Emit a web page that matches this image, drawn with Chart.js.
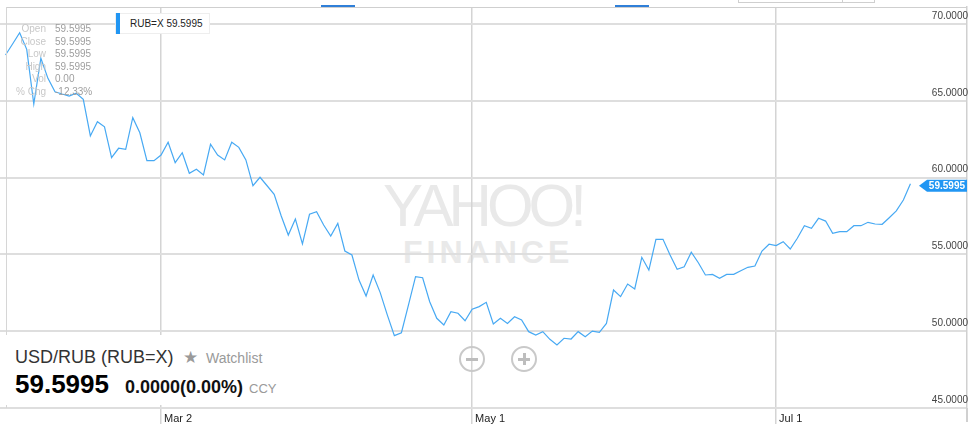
<!DOCTYPE html>
<html>
<head>
<meta charset="utf-8">
<script src="https://cdn.jsdelivr.net/npm/chart.js@4.4.0/dist/chart.umd.min.js"></script>
<style>
  body { margin: 0; background: #fff; font-family: "Liberation Sans", Arial, sans-serif; }
  #wrap { position: relative; width: 974px; height: 424px; overflow: hidden; }
  #chart { position: absolute; left: 0; top: 0; z-index: 1; }
  .abs { position: absolute; white-space: nowrap; line-height: 1; }
  .front { z-index: 2; }
  #mark1 { left: 383px; top: 176px; font-size: 60px; color: #e9e9e9; letter-spacing: -5px; }
  #mark2 { left: 403px; top: 236px; font-size: 32px; color: #e9e9e9; font-weight: bold; letter-spacing: 4px; }
  #info { left: 0; top: 23px; font-size: 10px; line-height: 12.5px; }
  #info .k { position: absolute; right: -46px; width: 60px; text-align: right; color: #c8c8c8; }
  #legend { left: 115px; top: 13px; width: 95px; height: 21px; background: #fff; border: 1px solid #eee; box-sizing: border-box; font-size: 10px; line-height: 19px; color: #222; z-index: 2; }
  #legend .bar { position: absolute; left: 0; top: -1px; width: 4px; height: 21px; background: #2196f3; }
  #quote { left: 0; top: 335px; width: 290px; height: 70px; background: #fff; z-index: 2; }
  .zoom { position: absolute; width: 22px; height: 22px; border: 2px solid #c9c9c9; border-radius: 50%; z-index: 2; }
  .zoom i { position: absolute; background: #bdbdbd; }
</style>
</head>
<body>
<div id="wrap">
  <div class="abs" id="mark1">YAHOO!</div>
  <div class="abs" id="mark2">FINANCE</div>
  <canvas id="chart" width="974" height="424"></canvas>

  <!-- frame remnants of the page above the chart -->
  <div class="abs front" style="left:6px;top:7px;width:961px;height:1px;background:#cfcfcf"></div>
  <div class="abs front" style="left:6px;top:7px;width:1px;height:401px;background:#d6d6d6"></div>
  <div class="abs front" style="left:966px;top:408px;width:1.5px;height:14px;background:#d0d0d0"></div>
  <div class="abs front" style="left:321px;top:5px;width:34px;height:2px;background:#2f7fd8"></div>
  <div class="abs front" style="left:615px;top:5px;width:34px;height:2px;background:#2f7fd8"></div>
  <div class="abs front" style="left:738px;top:-1px;width:137px;height:4px;border:1px solid #cfcfcf;box-sizing:border-box"></div>
  <div class="abs front" style="left:842px;top:0;width:1px;height:3px;background:#cfcfcf"></div>

  <div class="abs front" id="info"></div>
  <div class="abs" id="legend"><span class="bar"></span><span style="position:absolute;left:14px">RUB=X <span id="legendVal"></span></span></div>

  <div class="abs" id="quote">
    <span class="abs" style="left:15px;top:13px;font-size:18px;color:#333">USD/RUB (RUB=X)</span>
    <span class="abs" style="left:183px;top:14px;font-size:17px;color:#9a9a9a;font-family:'DejaVu Sans'">★</span>
    <span class="abs" style="left:206px;top:16px;font-size:14px;color:#9a9a9a">Watchlist</span>
    <span class="abs" id="bigVal" style="left:15px;top:36px;font-size:26px;font-weight:bold;color:#000"></span>
    <span class="abs" style="left:125px;top:43px;font-size:18px;font-weight:bold;color:#111">0.0000(0.00%)</span>
    <span class="abs" style="left:249px;top:47px;font-size:13px;color:#9a9a9a">CCY</span>
  </div>

  <div class="zoom" style="left:459px;top:346px"><i style="left:5px;top:9.5px;width:12px;height:3px"></i></div>
  <div class="zoom" style="left:511px;top:346px"><i style="left:5px;top:9.5px;width:12px;height:3px"></i><i style="left:9.5px;top:5px;width:3px;height:12px"></i></div>
</div>

<script>
// USD/RUB daily close, one value per weekday starting 2015-01-29
const startDate = "2015-01-29";
const rates = [
  67.98, 68.70, 69.43, 68.35, 64.79, 67.77, 66.46, 65.59, 65.44, 65.31,
  65.49, 65.10, 62.71, 63.64, 63.31, 61.30, 61.91, 61.84, 63.90, 62.92,
  61.10, 61.10, 61.47, 62.30, 60.97, 61.62, 60.28, 60.54, 60.17, 62.17,
  61.47, 61.15, 62.30, 61.97, 61.15, 59.47, 60.02, 59.47, 58.91, 57.50,
  56.26, 57.30, 55.68, 57.61, 57.78, 56.91, 56.20, 57.02, 55.22, 54.96,
  53.33, 52.29, 53.66, 52.51, 51.06, 49.71, 49.90, 51.71, 53.55, 53.48,
  51.92, 50.84, 50.40, 51.27, 51.17, 50.68, 51.43, 51.60, 51.88, 50.47,
  50.84, 50.51, 50.94, 50.73, 49.97, 49.75, 49.97, 49.47, 49.10, 49.54,
  49.49, 49.97, 49.64, 50.01, 49.93, 50.51, 52.68, 52.25, 53.07, 52.75,
  54.81, 53.98, 55.98, 55.98, 54.96, 54.03, 54.20, 55.14, 54.46, 53.66,
  53.70, 53.44, 53.70, 53.70, 53.94, 54.16, 54.24, 55.22, 55.66, 55.57,
  55.83, 55.35, 56.05, 56.87, 56.70, 57.35, 57.17, 56.37, 56.48, 56.48,
  56.87, 56.87, 57.09, 56.98, 56.96, 57.39, 57.83, 58.54, 59.5995
];
const tickDates = ["2015-03-02", "2015-05-01", "2015-07-01"];
const tickLabels = ["Mar 2", "May 1", "Jul 1"];
const yTicks = [45, 50, 55, 60, 65, 70];
const infoLabels = ["Open", "Close", "Low", "High", "Vol", "% Chg"];
const infoValues = ["59.5995", "59.5995", "59.5995", "59.5995", "0.00", "-12.33%"];

// weekday calendar for the series
const days = [];
const d = new Date(startDate + "T00:00:00Z");
while (days.length < rates.length) {
  const wd = d.getUTCDay();
  if (wd !== 0 && wd !== 6) days.push(d.toISOString().slice(0, 10));
  d.setUTCDate(d.getUTCDate() + 1);
}
const tickIdx = tickDates.map((t) => days.indexOf(t));
const last = rates[rates.length - 1];

document.getElementById("legendVal").textContent = last.toFixed(4);
document.getElementById("bigVal").textContent = last.toFixed(4);
const info = document.getElementById("info");
infoLabels.forEach((k, i) => {
  const row = document.createElement("div");
  row.style.position = "relative";
  row.style.height = "12.5px";
  row.innerHTML = '<span class="k" style="left:-14px">' + k + '</span><span style="position:absolute;left:55px;color:#9e9e9e">' + infoValues[i] + "</span>";
  info.appendChild(row);
});

Chart.defaults.font.family = "'Liberation Sans', Arial, sans-serif";

const priceTag = {
  id: "priceTag",
  afterDatasetsDraw(chart) {
    const { ctx, chartArea, scales } = chart;
    const y = scales.y.getPixelForValue(last) + 2;
    const r = chartArea.right;
    ctx.save();
    ctx.fillStyle = "#2196f3";
    ctx.beginPath();
    ctx.moveTo(r - 48, y);
    ctx.lineTo(r - 40, y - 6);
    ctx.lineTo(r, y - 6);
    ctx.lineTo(r, y + 6);
    ctx.lineTo(r - 40, y + 6);
    ctx.closePath();
    ctx.fill();
    ctx.fillStyle = "#fff";
    ctx.font = "bold 10px 'Liberation Sans'";
    ctx.textAlign = "right";
    ctx.textBaseline = "middle";
    ctx.fillText(last.toFixed(4), r - 2, y + 0.5);
    ctx.restore();
  },
};

new Chart(document.getElementById("chart"), {
  type: "line",
  data: {
    datasets: [
      {
        data: rates.map((v, i) => ({ x: i, y: v })),
        borderColor: "#47a9f3",
        borderWidth: 1.2,
        pointRadius: 0,
        tension: 0,
        fill: false,
      },
    ],
  },
  options: {
    responsive: false,
    animation: false,
    events: [],
    layout: { padding: { left: 0, right: 7, top: 7, bottom: 0 } },
    scales: {
      x: {
        type: "linear",
        min: -0.78,
        max: 136,
        afterBuildTicks: (s) => { s.ticks = tickIdx.map((v) => ({ value: v })); },
        afterFit: (s) => { s.height = 16; },
        grid: { color: "#d4d4d4", lineWidth: 1.5, tickLength: 16 },
        border: { display: false },
        ticks: {
          autoSkip: false,
          maxRotation: 0,
          align: "start",
          labelOffset: 3,
          padding: -12,
          color: "#222",
          font: { size: 11 },
          callback: (v, i) => tickLabels[i],
        },
      },
      y: {
        position: "right",
        min: 45,
        max: 71.107,
        afterBuildTicks: (s) => { s.ticks = yTicks.map((v) => ({ value: v })); },
        afterFit: (s) => { s.width = 0; },
        grid: { color: "#dedede", lineWidth: 2, drawTicks: false },
        border: { display: true, color: "#d0d0d0", width: 1.5 },
        ticks: {
          mirror: true,
          padding: 1,
          labelOffset: -8,
          color: "#444",
          font: { size: 10 },
          callback: (v) => Number(v).toFixed(4),
        },
      },
    },
    plugins: {
      legend: { display: false },
      tooltip: { enabled: false },
    },
  },
  plugins: [priceTag],
});
</script>
</body>
</html>
